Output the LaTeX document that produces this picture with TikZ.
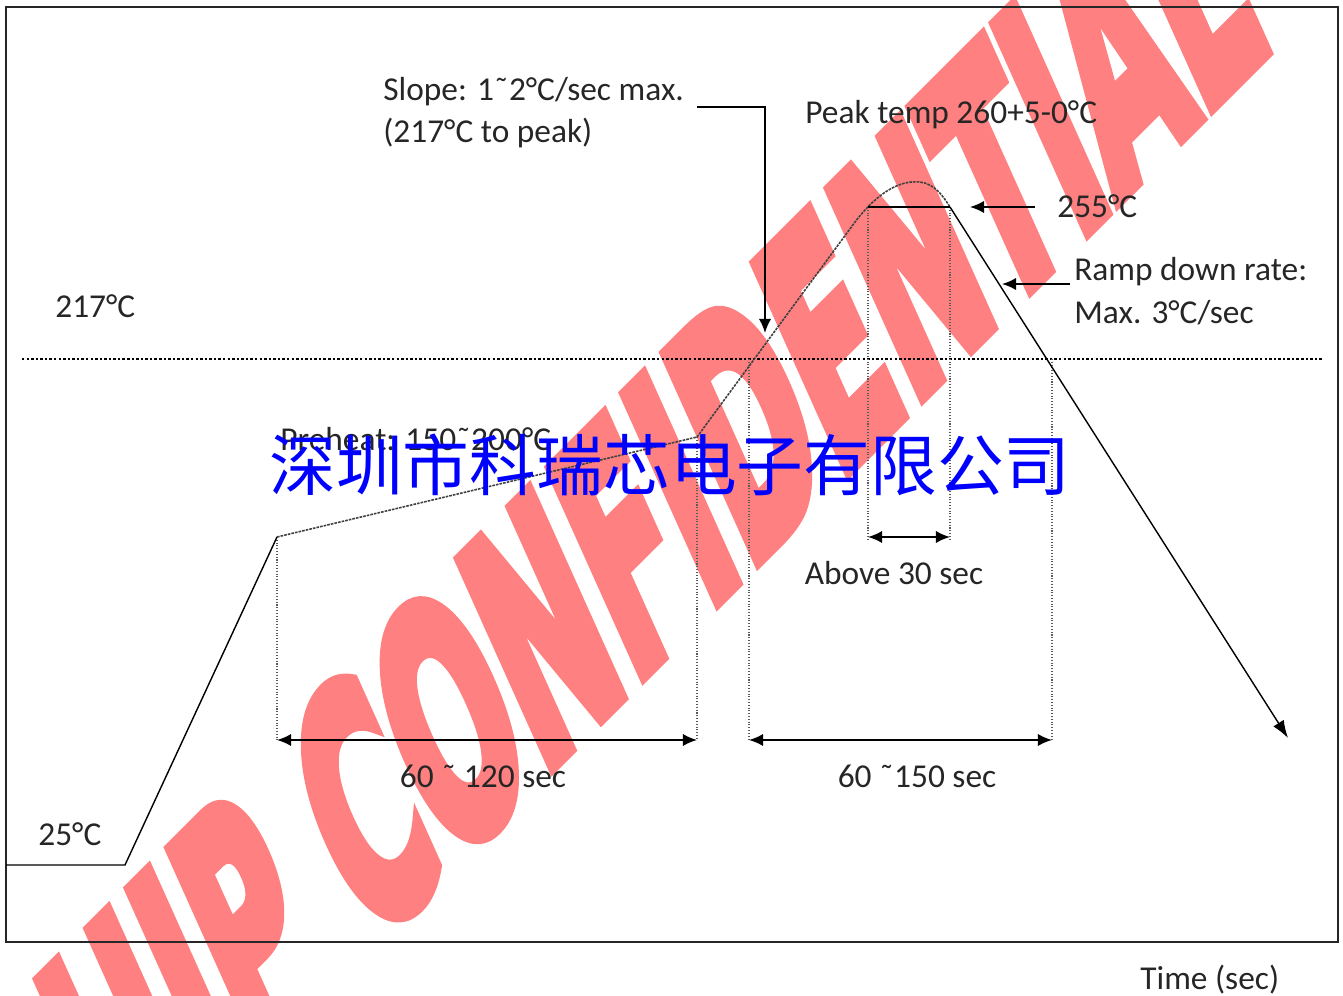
\documentclass[tikz,border=0pt]{standalone}
\usepackage{fontspec}
\setmainfont{Carlito}
\newfontfamily\cjkfont{Noto Sans CJK SC}
\newfontfamily\wmfont[BoldFeatures={FakeBold=6}]{DejaVu Sans}
\usetikzlibrary{arrows.meta}
\definecolor{wmred}{RGB}{255,128,128}
\definecolor{cnblue}{RGB}{0,0,255}

\tikzset{
  lbl/.style={anchor=base west,inner sep=0pt,text=black!85,font=\fontsize{19}{22}\selectfont},
  lblc/.style={anchor=base,inner sep=0pt,text=black!85,font=\fontsize{19}{22}\selectfont},
  guia/.style={black!65,densely dotted,line width=0.6pt},
  rango/.style={line width=1.1pt,{Latex[length=8pt,width=7pt]}-{Latex[length=8pt,width=7pt]}},
  llamada/.style={line width=1pt,-{Latex[length=8pt,width=7pt]}},
  subida/.style={black!75,line width=0.9pt,dash pattern=on 1.5pt off 0.6pt},
}

\begin{document}
\begin{tikzpicture}[x=0.02cm,y=-0.02cm]
\useasboundingbox (0,0) rectangle (1343,996);

%Marca de agua
\begin{scope}
\clip (0,0) rectangle (1343,996);
\node[text=wmred,anchor=base east,inner sep=0pt,rotate=45,xslant=0.38,xscale=0.54,
      font=\wmfont\bfseries\fontsize{162}{162}\selectfont] (marca) at (1270,46) {ROCKCHIP CONFIDENTIAL};
\end{scope}

%Marco
\draw[line width=1pt,black!85] (6,7) rectangle (1338,942);

%Puntos de la curva
\coordinate (ini) at (6,865);
\coordinate (codo) at (125,865);
\coordinate (preA) at (277,537);
\coordinate (preB) at (697,437);
\coordinate (picoL) at (868,207);
\coordinate (picoR) at (950,207);
\coordinate (fin) at (1288,738);

%Linea 217
\draw[line width=1.6pt,dash pattern=on 1.4pt off 1.2pt] (22,359) -- (1322,359);

%Lineas verticales
\draw[guia] (preA) -- (277,740);
\draw[guia] (preB) -- (697,740);
\draw[guia] (749,359) -- (749,740);
\draw[guia] (picoL) -- (868,540);
\draw[guia] (picoR) -- (950,540);
\draw[guia] (1052,359) -- (1052,740);

%Curva
\draw[line width=0.8pt] (ini) -- (codo) -- (preA);
\draw[subida] (preA) -- (preB) -- (855,222)
   .. controls (878,192) and (900,180) .. (920,182)
   .. controls (935,184) and (943,196) .. (picoR);
\draw[line width=0.8pt,-{Latex[length=10pt,width=7pt]}] (picoR) -- (fin);
\draw[line width=1pt] (picoL) -- (picoR);

%Rangos
\draw[rango] (277,740) -- (697,740);
\draw[rango] (749,740) -- (1052,740);
\draw[rango] (868,537) -- (950,537);

%Llamadas
\draw[llamada] (697,107) -- (765,107) -- (765,333);
\draw[llamada] (1035,207) -- (970,207);
\draw[llamada] (1070,284) -- (1002,284);

%Textos
\node[lbl] (pend1) at (383,101) {Slope: 1˜2°C/sec max.};
\node[lbl] (pend2) at (383,143) {(217°C to peak)};
\node[lbl] (pico) at (805,124) {Peak temp 260+5-0°C};
\node[lbl] (t255) at (1057,218) {255°C};
\node[lbl] (baja1) at (1074,281) {Ramp down rate:};
\node[lbl] (baja2) at (1074,324) {Max. 3°C/sec};
\node[lbl] (t217) at (55,318) {217°C};
\node[lbl] (prec) at (280,451) {Preheat: 150˜200°C};
\node[lblc] (s30) at (894,585) {Above 30 sec};
\node[lblc] (s120) at (483,787) {60 ˜ 120 sec};
\node[lblc] (s150) at (917,787) {60 ˜150 sec};
\node[lbl] (t25) at (38,846) {25°C};
\node[lbl] (tiempo) at (1140,989) {Time (sec)};

%Empresa
\node[text=cnblue,inner sep=0pt,font=\cjkfont\fontsize{38}{40}\selectfont] (empresa) at (670,465) {深圳市科瑞芯电子有限公司};
\end{tikzpicture}
\end{document}
